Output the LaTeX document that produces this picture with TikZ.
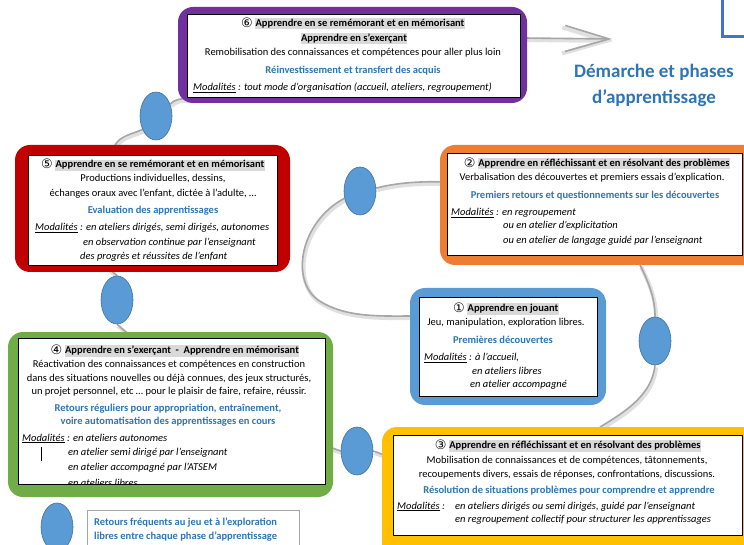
\documentclass[tikz,border=0pt]{standalone}
\usepackage{fontspec}
\setmainfont{Carlito}
\newfontfamily\circfont{DejaVu Sans}
\usetikzlibrary{arrows.meta,shapes.geometric}
\definecolor{cpurp}{HTML}{7030A0}
\definecolor{cred}{HTML}{C00000}
\definecolor{corange}{HTML}{ED7D31}
\definecolor{cblue}{HTML}{5B9BD5}
\definecolor{cgreen}{HTML}{70AD47}
\definecolor{cyellow}{HTML}{FFC000}
\definecolor{ctext}{HTML}{2E75B6}
\definecolor{hlgray}{HTML}{D9D9D9}
\definecolor{cbubd}{HTML}{41719C}
\definecolor{cconn}{HTML}{A6A6A6}
\definecolor{cL}{HTML}{4472C4}
\pgfdeclarelayer{bg}
\pgfsetlayers{bg,main}
\newcommand\hl[1]{{\setlength{\fboxsep}{0.4pt}\colorbox{hlgray}{\rule[-2.6pt]{0pt}{10.6pt}#1}}}
\newcommand\cnum[1]{{\circfont\mdseries\fontsize{13}{13}\selectfont\raisebox{-0.6pt}{#1}}}
\newcommand\bl[1]{{\color{ctext}\bfseries#1}}
\newcommand\modal{\underline{Modalités}}
\begin{document}
\begin{tikzpicture}[x=1pt,y=-1pt,
 outerbox/.style={rounded corners=15pt, fill=#1, draw=none, anchor=north west, inner sep=0pt, outer sep=0pt},
 innerbox/.style={draw=black, line width=0.8pt, fill=white, anchor=north west, inner sep=0pt, outer sep=0pt},
 txt/.style={font=\fontsize{10.5}{13}\selectfont, inner sep=0pt, anchor=base},
 txtl/.style={txt, anchor=base west},
 conn/.style={draw=cconn, line width=1.6pt, preaction={draw=black!12, line width=4pt, transform canvas={shift={(1.2pt,-2pt)}}}},
 bubble/.style={ellipse, fill=cblue, draw=cbubd, line width=0.6pt, minimum width=32pt, minimum height=48pt, inner sep=0pt},
]
\clip (0,0) rectangle (744,545);

% ---------- box 6 ----------
\node[outerbox=cpurp, minimum width=349pt, minimum height=96pt] (o6) at (178,7) {};
\node[innerbox, minimum width=333pt, minimum height=83pt] (i6) at (187,14) {};
\node[txt] (t6a) at (353,26.5) {\bfseries\cnum{⑥} \hl{Apprendre en se remémorant et en mémorisant}};
\node[txt] (t6b) at (354,41.5) {\bfseries\hl{Apprendre en s’exerçant}};
\node[txt] (t6c) at (353,55.5) {Remobilisation des connaissances et compétences pour aller plus loin};
\node[txt] (t6d) at (353,73.5) {\bl{Réinvestissement et transfert des acquis}};
\node[txtl] (t6e) at (193,90.5) {\itshape\modal{} : tout mode d’organisation (accueil, ateliers, regroupement)};

% ---------- box 5 ----------
\node[outerbox=cred, minimum width=275pt, minimum height=127pt] (o5) at (15,145) {};
\node[innerbox, minimum width=249pt, minimum height=110pt] (i5) at (28,155) {};
\node[txt] (t5a) at (153,168) {\bfseries\cnum{⑤} \hl{Apprendre en se remémorant et en mémorisant}};
\node[txt] (t5b) at (153,182) {Productions individuelles, dessins,};
\node[txt] (t5c) at (153,197) {échanges oraux avec l’enfant, dictée à l’adulte, …};
\node[txt] (t5d) at (153,214) {\bl{Evaluation des apprentissages}};
\node[txtl] (t5e) at (35,231) {\itshape\modal{} : en ateliers dirigés, semi dirigés, autonomes};
\node[txtl] (t5f) at (83,245.5) {\itshape en observation continue par l’enseignant};
\node[txtl] (t5g) at (80,260) {\itshape des progrès et réussites de l’enfant};

% ---------- box 2 ----------
\node[outerbox=corange, minimum width=330pt, minimum height=120pt] (o2) at (440,145) {};
\node[innerbox, minimum width=295pt, minimum height=102pt] (i2) at (447,153) {};
\node[txt] (t2a) at (597,166.5) {\bfseries\cnum{②} \hl{Apprendre en réfléchissant et en résolvant des problèmes}};
\node[txt] (t2b) at (592,180.5) {Verbalisation des découvertes et premiers essais d’explication.};
\node[txt] (t2c) at (595,198.5) {\bl{Premiers retours et questionnements sur les découvertes}};
\node[txtl] (t2d) at (451,215.5) {\itshape\modal{} : en regroupement};
\node[txtl] (t2e) at (503,229) {\itshape ou en atelier d’explicitation};
\node[txtl] (t2f) at (503,243.5) {\itshape ou en atelier de langage guidé par l’enseignant};

% ---------- box 1 ----------
\node[outerbox=cblue, minimum width=196pt, minimum height=117pt] (o1) at (410,288) {};
\node[innerbox, minimum width=178pt, minimum height=99pt] (i1) at (419,297) {};
\node[txt] (t1a) at (506,311.5) {\bfseries\cnum{①} \hl{Apprendre en jouant}};
\node[txt] (t1b) at (506,325.5) {Jeu, manipulation, exploration libres.};
\node[txt] (t1c) at (503,343.5) {\bl{Premières découvertes}};
\node[txtl] (t1d) at (424,360.5) {\itshape\modal{} : à l’accueil,};
\node[txtl] (t1e) at (472,374) {\itshape en ateliers libres};
\node[txtl] (t1f) at (470,387) {\itshape en atelier accompagné};

% ---------- box 4 ----------
\node[outerbox=cgreen, minimum width=325pt, minimum height=165pt] (o4) at (8,332) {};
\node[innerbox, minimum width=307pt, minimum height=146pt] (i4) at (18,338) {};
\node[txt] (t4a) at (175,353.5) {\bfseries\cnum{④} \hl{Apprendre en s’exerçant \ - \ Apprendre en mémorisant}};
\node[txt] (t4b) at (169,367) {Réactivation des connaissances et compétences en construction};
\node[txt] (t4c) at (169,381) {dans des situations nouvelles ou déjà connues, des jeux structurés,};
\node[txt] (t4d) at (169,394.5) {un projet personnel, etc … pour le plaisir de faire, refaire, réussir.};
\node[txt] (t4e) at (168,411) {\bl{Retours réguliers pour appropriation, entraînement,}};
\node[txt] (t4f) at (168,424.5) {\bl{voire automatisation des apprentissages en cours}};
\node[txtl] (t4g) at (22,441) {\itshape\modal{} : en ateliers autonomes};
\node[txtl] (t4h) at (68,455.5) {\itshape en atelier semi dirigé par l’enseignant};
\node[txtl] (t4i) at (68,470) {\itshape en atelier accompagné par l’ATSEM};
\begin{scope}
\clip (i4.north west) rectangle (i4.south east);
\node[txtl] (t4j) at (68,486) {\itshape en ateliers libres};
\end{scope}
\draw[line width=0.6pt] (41,447) -- (41,461);

% ---------- box 3 ----------
\node[outerbox=cyellow, minimum width=380pt, minimum height=140pt] (o3) at (382,427) {};
\node[innerbox, minimum width=349pt, minimum height=100pt] (i3) at (393,435) {};
\node[txt] (t3a) at (568,448.5) {\bfseries\cnum{③} \hl{Apprendre en réfléchissant et en résolvant des problèmes}};
\node[txt] (t3b) at (567,463.5) {Mobilisation de connaissances et de compétences, tâtonnements,};
\node[txt] (t3c) at (567,477) {recoupements divers, essais de réponses, confrontations, discussions.};
\node[txt] (t3d) at (569,493.5) {\bl{Résolution de situations problèmes pour comprendre et apprendre}};
\node[txtl] (t3e) at (397,509) {\itshape\modal{} :};
\node[txtl] (t3f) at (455,509) {\itshape en ateliers dirigés ou semi dirigés, guidé par l’enseignant};
\node[txtl] (t3g) at (455,522.5) {\itshape en regroupement collectif pour structurer les apprentissages};

% ---------- bubbles ----------
\node[bubble] (e1) at (156,116) {};
\node[bubble] (e2) at (360,191) {};
\node[bubble] (e3) at (655,341) {};
\node[bubble] (e4) at (357,451) {};
\node[bubble] (e5) at (117,300) {};

% ---------- title ----------
\node[font=\fontsize{19}{23}\selectfont\bfseries, text=ctext, anchor=base, inner sep=0pt] (ti1) at (654,78) {Démarche et phases};
\node[font=\fontsize{19}{23}\selectfont\bfseries, text=ctext, anchor=base, inner sep=0pt] (ti2) at (654,104) {d’apprentissage};
\draw[cL, line width=3pt] (722,-2) -- (722,37) -- (746,37);

% ---------- legend ----------
\node[bubble] (eL) at (57,527) {};
\node[draw=cconn, line width=0.8pt, anchor=north west, minimum width=212pt, minimum height=50pt, inner sep=0pt] (lg) at (87,510) {};
\node[txtl] (lg1) at (94,525) {\bl{Retours fréquents au jeu et à l’exploration}};
\node[txtl] (lg2) at (94,539) {\bl{libres entre chaque phase d’apprentissage}};

% ---------- connectors ----------
\coordinate (atip) at (612,39);
\begin{pgfonlayer}{bg}
\draw[conn] ([xshift=-37.5pt]o5.north) .. controls (120,136) and (132,134) .. (e1.225);
\draw[conn] (e1.40) .. controls (174,100) and (180,98) .. ([shift={(12pt,4pt)}]o6.south west);
\draw[conn] (e2.10) .. controls (395,183) and (420,181) .. ([shift={(6pt,23pt)}]o2.west);
\draw[conn] (e2.205) .. controls (300,222) and (290,280) .. (318,300) .. controls (345,318) and (380,316) .. ([shift={(6pt,30.5pt)}]o1.west);
\draw[conn] ([xshift=35pt]o2.south) .. controls (650,285) and (655,300) .. (e3.north);
\draw[conn] (e3.south) .. controls (652,395) and (625,412) .. ([xshift=28pt]o3.north);
\draw[conn] (e4.east) -- ([shift={(5pt,41pt)}]o3.west);
\draw[conn] ([shift={(-5pt,-32pt)}]o4.east) -- (e4.west);
\draw[conn] (e5.north) -- ([shift={(-44.5pt,4pt)}]o5.south);
\draw[conn] (e5.south) -- ([shift={(-40pt,-4pt)}]o4.north);
\draw[conn, -{Straight Barb[length=44pt,width=26pt]}] ([shift={(-3pt,17pt)}]o6.east) -- (atip);
\end{pgfonlayer}
\end{tikzpicture}
\end{document}
